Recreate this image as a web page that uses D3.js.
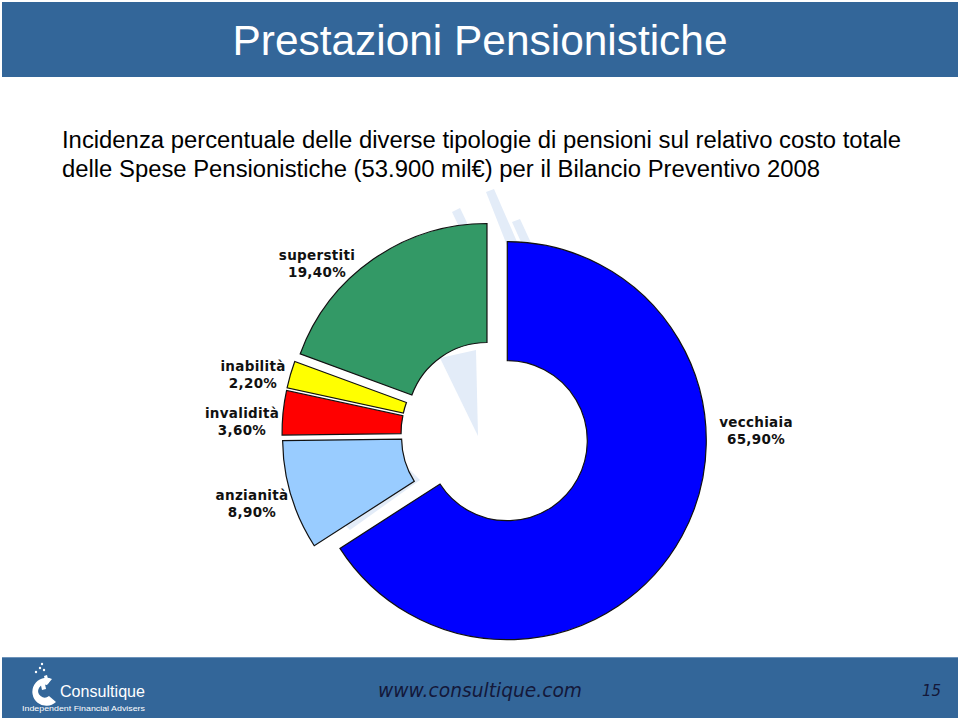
<!DOCTYPE html>
<html>
<head>
<meta charset="utf-8">
<script src="https://cdn.jsdelivr.net/npm/d3@7/dist/d3.min.js"></script>
<style>
  html, body { margin: 0; padding: 0; background: #fff; }
  svg { display: block; }
</style>
</head>
<body>
<svg id="chart" width="960" height="720"></svg>
<script>
// ---- data ----
const categories = ["vecchiaia", "anzianità", "invalidità", "inabilità", "superstiti"];
const values = [65.9, 8.9, 3.6, 2.2, 19.4];
const colors = ["#0000FF", "#99CCFF", "#FF0000", "#FFFF00", "#339966"];
const title = "Prestazioni Pensionistiche";
const subtitleLines = [
  "Incidenza percentuale delle diverse tipologie di pensioni sul relativo costo totale",
  "delle Spese Pensionistiche (53.900 mil€) per il Bilancio Preventivo 2008"
];

// ---- layout ----
const W = 960, H = 720;
const cx = 495, cy = 434;
const outerR = 199, innerR = 80, explode = 14;
const labelOffsets = {
  "vecchiaia": [261, -12],
  "anzianità": [-243, 61],
  "invalidità": [-253, -21],
  "inabilità": [-242, -68],
  "superstiti": [-178, -179]
};

const svg = d3.select("#chart");

// header bar
svg.append("rect").attr("x", 2).attr("y", 2).attr("width", 956).attr("height", 75).attr("fill", "#336699");
svg.append("text").attr("x", 480).attr("y", 55).attr("text-anchor", "middle")
  .attr("font-family", "Liberation Sans, Arial, sans-serif").attr("font-size", 42)
  .attr("fill", "#fff").attr("textLength", 495).attr("lengthAdjust", "spacingAndGlyphs").text(title);

// subtitle
const subW = [839, 758];
subtitleLines.forEach((t, i) => {
  svg.append("text").attr("x", 62).attr("y", 148 + i * 29)
    .attr("font-family", "Liberation Sans, Arial, sans-serif").attr("font-size", 23)
    .attr("fill", "#000").attr("textLength", subW[i]).attr("lengthAdjust", "spacingAndGlyphs").text(t);
});

// faint watermark behind chart
const wm = svg.append("g").attr("fill", "#e3ecf8");
wm.append("path").attr("d", "M452,212 L460,208 L482,254 L474,258 Z");
wm.append("path").attr("d", "M486,192 L494,189 L518,244 L508,248 Z");
wm.append("path").attr("d", "M512,222 L520,219 L538,258 L530,262 Z");
wm.append("path").attr("d", "M440,358 L476,350 L478,436 Z");
wm.append("path").attr("d", "M436,492 A88,88 0 0 0 584,492 L580,484 A82,82 0 0 1 440,484 Z");
wm.append("path").attr("d", "M340,520 L410,470 L420,480 L350,530 Z");

// donut
const pie = d3.pie().sort(null).value(d => d.value).startAngle(0).endAngle(2 * Math.PI);
const arc = d3.arc().innerRadius(innerR).outerRadius(outerR);
const data = categories.map((c, i) => ({ cat: c, value: values[i], color: colors[i] }));
const arcs = pie(data);

const g = svg.append("g").attr("transform", `translate(${cx},${cy})`);
g.selectAll("path.slice").data(arcs).enter().append("path")
  .attr("class", "slice")
  .attr("d", arc)
  .attr("fill", d => d.data.color)
  .attr("stroke", "#111")
  .attr("stroke-width", 1.2)
  .attr("transform", d => {
    const a = (d.startAngle + d.endAngle) / 2;
    return `translate(${explode * Math.sin(a)},${-explode * Math.cos(a)})`;
  });

// labels
const fmt = v => d3.format(".2f")(v).replace(".", ",") + "%";
arcs.forEach(d => {
  const [dx, dy] = labelOffsets[d.data.cat];
  const t = g.append("text").attr("text-anchor", "middle")
    .attr("font-family", "DejaVu Sans, Verdana, sans-serif").attr("font-weight", "bold")
    .attr("font-size", 13.5).attr("fill", "#111").attr("letter-spacing", 0.3);
  t.append("tspan").attr("x", dx).attr("y", dy + 5).text(d.data.cat);
  t.append("tspan").attr("x", dx).attr("y", dy + 22).text(fmt(d.data.value));
});

// footer
svg.append("rect").attr("x", 2).attr("y", 657).attr("width", 956).attr("height", 61).attr("fill", "#336699");
svg.append("line").attr("x1", 2).attr("x2", 958).attr("y1", 657.5).attr("y2", 657.5).attr("stroke", "#6d93ba").attr("stroke-width", 1);
svg.append("text").attr("x", 480).attr("y", 697).attr("text-anchor", "middle")
  .attr("font-family", "DejaVu Sans, Verdana, sans-serif").attr("font-style", "italic")
  .attr("font-size", 19).attr("fill", "#14183a").attr("textLength", 204).attr("lengthAdjust", "spacingAndGlyphs")
  .text("www.consultique.com");
svg.append("text").attr("x", 941).attr("y", 696).attr("text-anchor", "end")
  .attr("font-family", "DejaVu Sans, Verdana, sans-serif").attr("font-style", "italic")
  .attr("font-size", 15).attr("fill", "#14183a").text("15");

// logo
const logo = svg.append("g");
logo.append("path").attr("fill", "#fff")
  .attr("d", "M52,679 A14,14 0 1 0 56,702 L49,696 A6.5,6.5 0 1 1 47,685 Z");
logo.append("path").attr("fill", "#fff").attr("d", "M40,681 L44,679 L46,689 L42,690 Z");
logo.append("path").attr("fill", "#fff").attr("d", "M44,676 L47,675 L49,683 L46,684 Z");
[[36,672],[40,668],[44,670],[42,664]].forEach(p => logo.append("circle").attr("cx", p[0]).attr("cy", p[1]).attr("r", 1.2).attr("fill", "#fff"));
logo.append("text").attr("x", 60).attr("y", 697).attr("font-family", "Liberation Sans, Arial, sans-serif")
  .attr("font-size", 17).attr("fill", "#fff").attr("textLength", 85).attr("lengthAdjust", "spacingAndGlyphs").text("Consultique");
logo.append("text").attr("x", 22).attr("y", 711).attr("font-family", "Liberation Sans, Arial, sans-serif")
  .attr("font-size", 8).attr("fill", "#fff").attr("textLength", 123).attr("lengthAdjust", "spacingAndGlyphs").text("Independent Financial Advisers");
</script>
</body>
</html>
